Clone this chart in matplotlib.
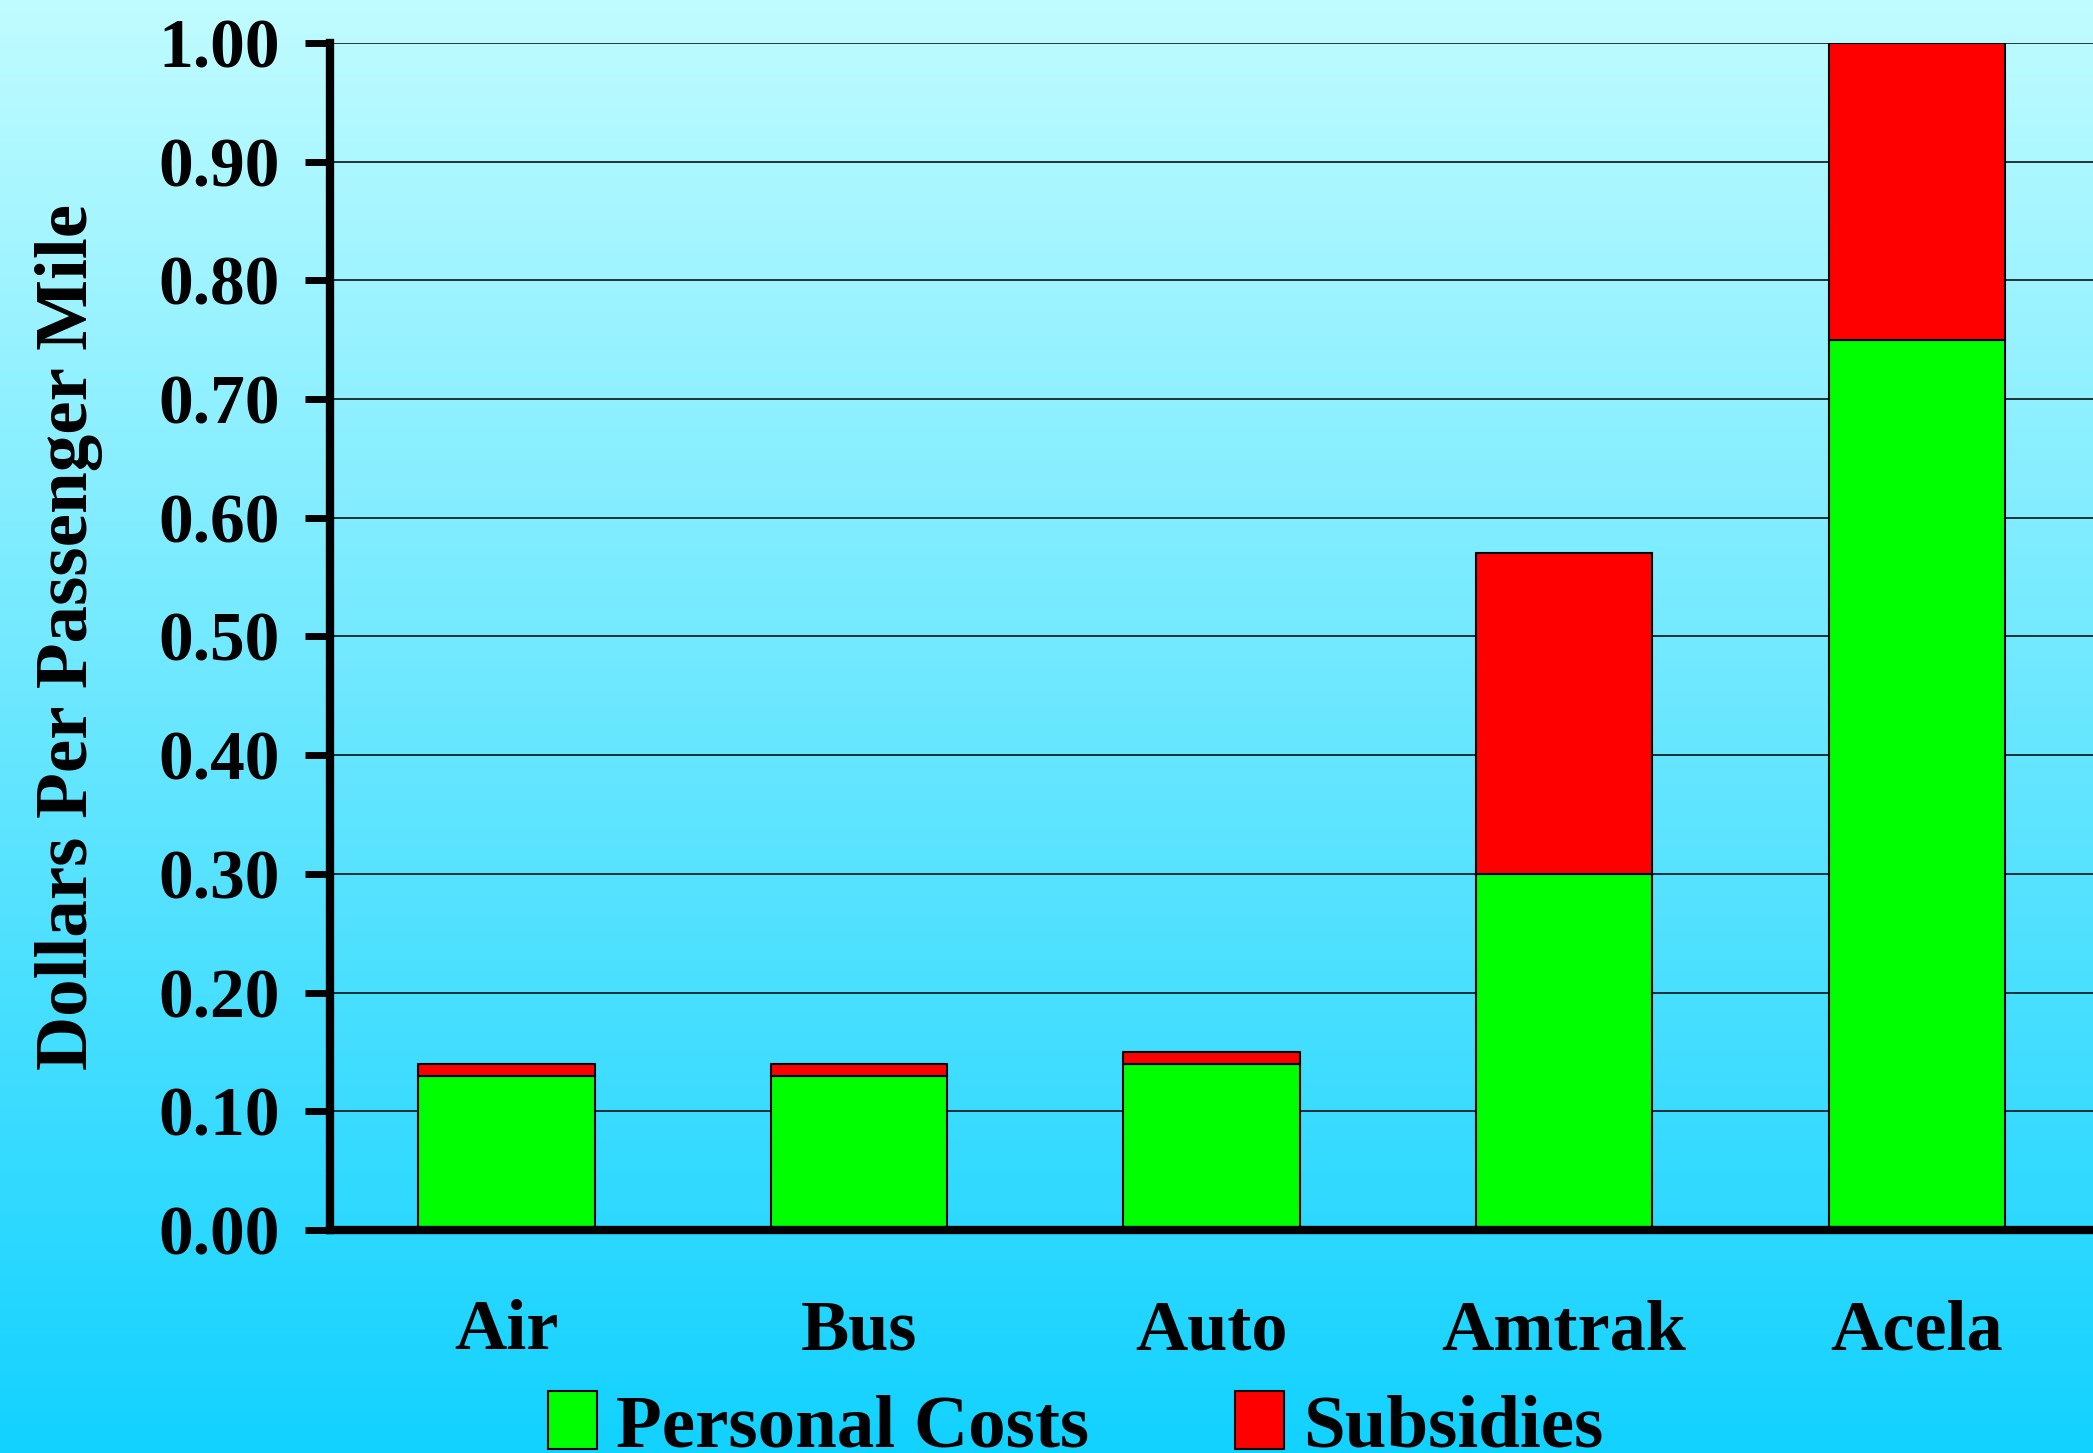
import matplotlib.pyplot as plt
import numpy as np

# ---------------------------------------------------------------------------
# Data
# ---------------------------------------------------------------------------
MODES = ["Air", "Bus", "Auto", "Amtrak", "Acela"]
PERSONAL = [0.13, 0.13, 0.14, 0.30, 0.75]
SUBSIDIES = [0.01, 0.01, 0.01, 0.27, 0.25]
Y_TICKS = [0.0, 0.1, 0.2, 0.3, 0.4, 0.5, 0.6, 0.7, 0.8, 0.9, 1.0]

C_PERSONAL = "#00ff00"
C_SUBSIDY = "#ff0000"
BG_TOP = np.array([0xc0, 0xfc, 0xff]) / 255
BG_BOTTOM = np.array([0x12, 0xd2, 0xff]) / 255

plt.rcParams["font.family"] = ["Liberation Serif", "DejaVu Serif"]
plt.rcParams["font.weight"] = "bold"

fig = plt.figure(figsize=(20.93, 14.53), dpi=100)

# background gradient
bg = fig.add_axes([0, 0, 1, 1], zorder=-10)
t = np.linspace(0, 1, 256)[:, None]
grad = BG_TOP[None, None, :] * (1 - t[..., None]) + BG_BOTTOM[None, None, :] * t[..., None]
bg.imshow(grad, aspect="auto", extent=[0, 1, 0, 1])
bg.set_axis_off()

ax = fig.add_axes([0.1577, 0.1535, 0.8423, 0.8169])
ax.patch.set_alpha(0)

x = np.arange(len(MODES))
ax.bar(x, PERSONAL, width=0.5, color=C_PERSONAL, edgecolor="black",
       linewidth=1.5, label="Personal Costs", zorder=3)
ax.bar(x, SUBSIDIES, width=0.5, bottom=PERSONAL, color=C_SUBSIDY,
       edgecolor="black", linewidth=1.5, label="Subsidies", zorder=3)

ax.set_xlim(-0.5, 4.5)
ax.set_ylim(0, 1.0)
ax.set_yticks(Y_TICKS)
ax.set_yticklabels([f"{v:.2f}" for v in Y_TICKS], fontsize=50, fontweight="bold")
ax.set_xticks(x)
ax.set_xticklabels(MODES, fontsize=52, fontweight="bold")
ax.tick_params(axis="x", length=0, pad=50)
ax.tick_params(axis="y", length=18, width=5, pad=18)

ax.grid(axis="y", color="black", linewidth=1.1, zorder=1)
ax.set_axisbelow(True)
for side in ("top", "right"):
    ax.spines[side].set_visible(False)
ax.spines["left"].set_linewidth(6)
ax.spines["bottom"].set_linewidth(6)
ax.spines["bottom"].set_zorder(5)

ax.set_ylabel("Dollars Per Passenger Mile", fontsize=54, fontweight="bold",
              labelpad=40)

fig.legend(loc="center", bbox_to_anchor=(0.514, 0.018), ncol=2, frameon=False,
           prop={"size": 54, "weight": "bold"}, handlelength=0.65,
           handleheight=0.8, handletextpad=0.25, columnspacing=1.95)

fig.savefig("out.png", dpi=100)
